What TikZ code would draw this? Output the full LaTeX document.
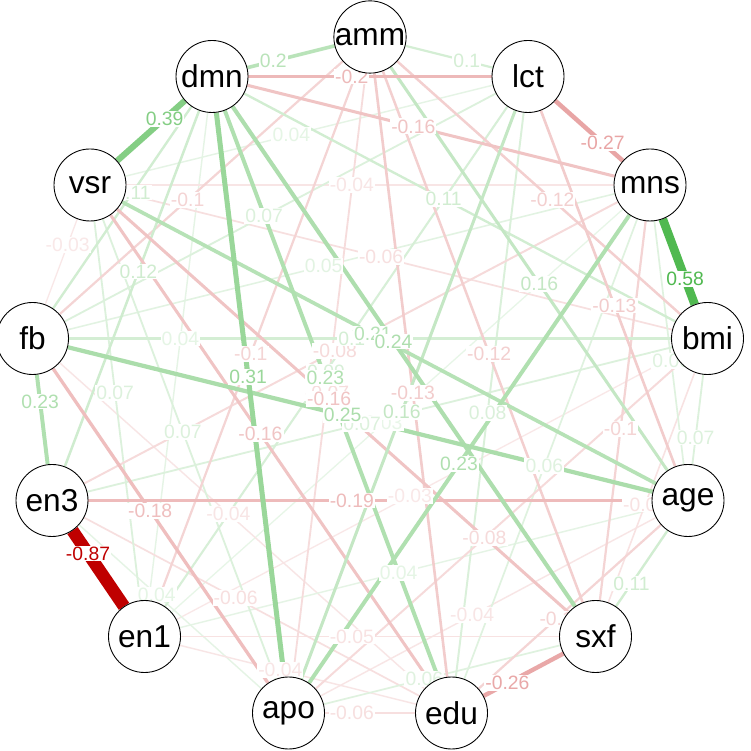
\documentclass[tikz,border=0pt]{standalone}
\usepackage{fontspec}
\setmainfont{Liberation Sans}
\usetikzlibrary{positioning}

\definecolor{posgreen}{HTML}{009900}
\definecolor{negred}{HTML}{BF0000}

\pgfdeclarelayer{back}
\pgfdeclarelayer{edges}
\pgfdeclarelayer{labels}
\pgfsetlayers{back,edges,labels,main}

\tikzset{
  var/.style={circle, draw=black, line width=0.5pt, fill=white,
    minimum size=1.44cm, inner sep=0pt, font=\fontsize{18}{20}\selectfont},
  elabel/.style={fill=white, inner sep=0.6pt, font=\fontsize{11}{12}\selectfont}
}

% weighted edge: from, to, weight
\newcommand{\pcedge}[3]{%
  \pgfmathsetmacro{\eabs}{abs(#3)}%
  \pgfmathsetmacro{\eshade}{min(100,6+94*\eabs/0.87)}%
  \pgfmathsetmacro{\ewidth}{0.5+7.6*\eabs}%
  \ifdim #3pt<0pt \def\ehue{negred}\else\def\ehue{posgreen}\fi
  \begin{pgfonlayer}{edges}
    \draw[line width=\ewidth pt, draw=\ehue!\eshade!white] (#1) -- (#2);
  \end{pgfonlayer}
  \begin{pgfonlayer}{labels}
    \path (#1) -- (#2.center) node[elabel, text=\ehue!\eshade!white, pos=0.5] {#3};
  \end{pgfonlayer}}

\begin{document}
\begin{tikzpicture}
\useasboundingbox (0,0) rectangle (15,15.02);
\begin{pgfonlayer}{back}
\fill[white] (0,0) rectangle (15,15.02);
\end{pgfonlayer}

% variables round the circle
\node[var] (amm) at (7.40,14.28) {amm};
\node[var] (lct) at (10.56,13.49) {lct};
\node[var] (mns) at (13.00,11.32) {mns};
\node[var] (bmi) at (14.15,8.25) {bmi};
\node[var] (age) at (13.76,5.01) {age};
\node[var] (sxf) at (11.91,2.29) {sxf};
\node[var] (edu) at (9.03,0.76) {edu};
\node[var] (apo) at (5.77,0.76) {apo};
\node[var] (en1) at (2.89,2.29) {en1};
\node[var] (en3) at (1.04,5.01) {en3};
\node[var] (fb) at (0.65,8.25) {fb};
\node[var] (vsr) at (1.80,11.32) {vsr};
\node[var] (dmn) at (4.24,13.49) {dmn};

% weak edges first
\pcedge{fb}{vsr}{-0.03}
\pcedge{mns}{en1}{0.03}
\pcedge{bmi}{en1}{-0.03}
\pcedge{en1}{dmn}{0.04}
\pcedge{edu}{fb}{-0.04}
\pcedge{apo}{en3}{0.04}
\pcedge{edu}{en1}{-0.04}
\pcedge{age}{en1}{0.04}
\pcedge{age}{apo}{-0.04}
\pcedge{mns}{vsr}{-0.04}
\pcedge{lct}{vsr}{0.04}
\pcedge{mns}{fb}{0.05}
\pcedge{sxf}{en1}{-0.05}
\pcedge{bmi}{sxf}{-0.05}
\pcedge{edu}{en3}{-0.06}
\pcedge{edu}{apo}{-0.06}
\pcedge{bmi}{vsr}{-0.06}
\pcedge{mns}{edu}{0.06}
\pcedge{sxf}{apo}{0.06}
\pcedge{mns}{age}{0.06}
\pcedge{lct}{fb}{0.07}
\pcedge{en1}{vsr}{0.07}
\pcedge{apo}{vsr}{0.07}
\pcedge{bmi}{en3}{0.07}
\pcedge{bmi}{age}{0.07}
\pcedge{amm}{apo}{-0.07}
\pcedge{lct}{edu}{0.08}
\pcedge{bmi}{apo}{-0.08}
\pcedge{mns}{en3}{-0.08}
\pcedge{lct}{en1}{0.09}
\pcedge{amm}{lct}{0.1}
\pcedge{amm}{fb}{-0.1}
\pcedge{amm}{en1}{-0.1}
\pcedge{mns}{sxf}{-0.1}
\pcedge{age}{edu}{-0.1}
\pcedge{bmi}{fb}{0.1}
\pcedge{fb}{dmn}{0.11}
\pcedge{bmi}{dmn}{0.11}
\pcedge{age}{sxf}{0.11}
\pcedge{en3}{dmn}{0.12}
\pcedge{amm}{sxf}{-0.12}
\pcedge{amm}{bmi}{-0.12}
\pcedge{amm}{edu}{-0.13}
\pcedge{lct}{age}{-0.13}
\pcedge{mns}{dmn}{-0.16}
\pcedge{edu}{vsr}{-0.16}
\pcedge{sxf}{vsr}{-0.16}
\pcedge{amm}{age}{0.16}
\pcedge{lct}{apo}{0.16}
\pcedge{apo}{fb}{-0.18}
\pcedge{age}{en3}{-0.19}
\pcedge{amm}{dmn}{0.2}
\pcedge{lct}{dmn}{-0.2}
\pcedge{age}{vsr}{0.21}
\pcedge{en3}{fb}{0.23}
\pcedge{mns}{apo}{0.23}
\pcedge{edu}{dmn}{0.23}
\pcedge{sxf}{dmn}{0.24}
\pcedge{age}{fb}{0.25}
\pcedge{sxf}{edu}{-0.26}
\pcedge{lct}{mns}{-0.27}
\pcedge{apo}{dmn}{0.31}
\pcedge{vsr}{dmn}{0.39}
\pcedge{mns}{bmi}{0.58}
\pcedge{en1}{en3}{-0.87}
\end{tikzpicture}
\end{document}
